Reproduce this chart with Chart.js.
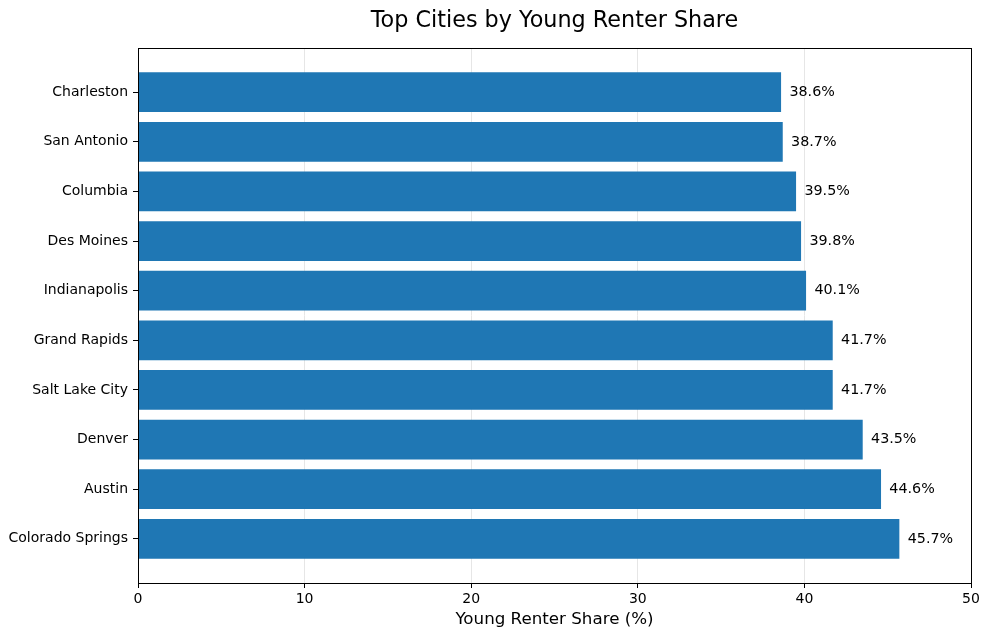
<!DOCTYPE html>
<html>
<head>
  <script src="https://cdn.jsdelivr.net/npm/chart.js@4/dist/chart.umd.min.js"></script>
  <title>Top Cities by Young Renter Share</title>
  <style>
    body { margin: 0; background: #fff; }
  </style>
</head>
<body>
  <canvas id="rentChart" width="989" height="640"></canvas>

  <script>
    // cities from bottom (index 0) to top
    const cities = ["Colorado Springs", "Austin", "Denver", "Salt Lake City", "Grand Rapids",
                    "Indianapolis", "Des Moines", "Columbia", "San Antonio", "Charleston"];
    const shares = [45.7, 44.6, 43.5, 41.7, 41.7, 40.1, 39.8, 39.5, 38.7, 38.6];
    const xTicks = [0, 10, 20, 30, 40, 50];
    const chartTitle = "Top Cities by Young Renter Share";

    const font = "'DejaVu Sans', sans-serif";

    // value labels next to each bar
    const valueLabels = {
      id: "valueLabels",
      afterDatasetsDraw(chart) {
        const ctx = chart.ctx;
        const xs = chart.scales.x;
        const meta = chart.getDatasetMeta(0);
        ctx.save();
        ctx.font = "14.3px " + font;
        ctx.fillStyle = "#000";
        ctx.textAlign = "left";
        ctx.textBaseline = "middle";
        meta.data.forEach((bar, i) => {
          ctx.fillText(shares[i].toFixed(1) + "%", xs.getPixelForValue(shares[i] + 0.5), bar.y);
        });
        ctx.restore();
      }
    };

    // box round the plot plus a title centred over the axes (matplotlib style)
    const frame = {
      id: "frame",
      afterDraw(chart) {
        const a = chart.chartArea;
        const ctx = chart.ctx;
        ctx.save();
        ctx.strokeStyle = "#000";
        ctx.lineWidth = 1;
        ctx.strokeRect(Math.round(a.left) + 0.5, Math.round(a.top) + 0.5,
                       Math.round(a.right - a.left), Math.round(a.bottom - a.top));
        ctx.font = "22.3px " + font;
        ctx.fillStyle = "#000";
        ctx.textAlign = "center";
        ctx.textBaseline = "alphabetic";
        ctx.fillText(chartTitle, (a.left + a.right) / 2, 26.5);
        ctx.restore();
      }
    };

    const ctx = document.getElementById("rentChart").getContext("2d");
    new Chart(ctx, {
      type: "bar",
      data: {
        datasets: [{
          data: shares.map((v, i) => ({ x: v, y: i })),
          backgroundColor: "#1f77b4",
          borderWidth: 0,
          barPercentage: 0.8,
          categoryPercentage: 1
        }]
      },
      options: {
        indexAxis: "y",
        responsive: false,
        animation: false,
        devicePixelRatio: 1,
        layout: { padding: { left: 0, right: 18, top: 48, bottom: 0 } },
        plugins: {
          legend: { display: false },
          tooltip: { enabled: false },
          title: { display: false }
        },
        scales: {
          x: {
            type: "linear",
            min: 0,
            max: 50,
            afterBuildTicks(scale) {
              scale.ticks = xTicks.map(v => ({ value: v }));
            },
            afterFit(scale) { scale.height = 57; },
            grid: {
              color: "#e6e6e6",
              tickColor: "#000",
              tickLength: 5
            },
            border: { display: false },
            ticks: {
              color: "#000",
              font: { family: font, size: 14 },
              padding: 3,
              maxRotation: 0
            },
            title: {
              display: true,
              text: "Young Renter Share (%)",
              color: "#000",
              font: { family: font, size: 16.7 },
              padding: { top: 0, bottom: 10 }
            }
          },
          y: {
            type: "linear",
            min: -0.89,
            max: 9.89,
            offset: false,
            afterBuildTicks(scale) {
              scale.ticks = cities.map((c, i) => ({ value: i }));
            },
            afterFit(scale) { scale.width = 138; },
            grid: {
              offset: false,
              drawOnChartArea: false,
              tickColor: "#000",
              tickLength: 5
            },
            border: { display: false },
            ticks: {
              color: "#000",
              font: { family: font, size: 14 },
              padding: 5,
              callback: (v) => cities[v]
            }
          }
        }
      },
      plugins: [valueLabels, frame]
    });
  </script>
</body>
</html>
